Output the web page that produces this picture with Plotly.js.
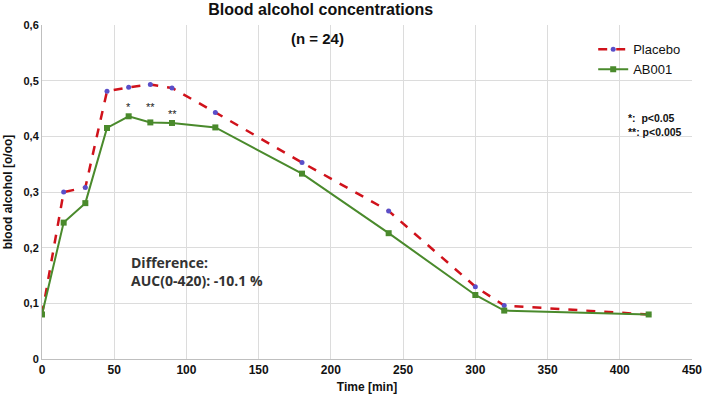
<!DOCTYPE html>
<html>
<head>
<meta charset="utf-8">
<script src="https://cdn.plot.ly/plotly-3.0.1.min.js"></script>
<style>html,body{margin:0;padding:0;background:#fff;}#chart{width:708px;height:401px;}</style>
</head>
<body>
<div id="chart"></div>
<script>
const timeMin = [0, 15, 30, 45, 60, 75, 90, 120, 180, 240, 300, 320, 420];
const placebo = [0.080, 0.300, 0.308, 0.481, 0.488, 0.493, 0.487, 0.443, 0.353, 0.266, 0.130, 0.096, 0.080];
const ab001 = [0.080, 0.245, 0.280, 0.415, 0.436, 0.425, 0.424, 0.416, 0.333, 0.226, 0.115, 0.087, 0.080];
const yTickVals = [0, 0.1, 0.2, 0.3, 0.4, 0.5, 0.6];
const yTickText = ['0', '0,1', '0,2', '0,3', '0,4', '0,5', '0,6'];
const xTickVals = [0, 50, 100, 150, 200, 250, 300, 350, 400, 450];
const sigTimes = [60, 75, 90];
const sigLabels = ['*', '**', '**'];
const sigY = [0.453, 0.453, 0.441];

const traces = [
  {x: timeMin, y: placebo, name: 'Placebo', mode: 'lines+markers',
   line: {color: '#d0121b', width: 2.5, dash: 'dash'},
   marker: {color: '#5a4fc9', size: 5, symbol: 'circle'}},
  {x: timeMin, y: ab001, name: 'AB001', mode: 'lines+markers',
   line: {color: '#4a8a2c', width: 2},
   marker: {color: '#4a8a2c', size: 6, symbol: 'square'}}
];

const annotations = sigTimes.map((t, i) => ({
  x: t, y: sigY[i], xref: 'x', yref: 'y', text: sigLabels[i], showarrow: false,
  font: {family: 'Arial, Liberation Sans', size: 11, color: '#222'}
}));
annotations.push(
  {x: (317 - 42) / 650, y: (359 - 38) / 334, xref: 'paper', yref: 'paper', text: '<b>(n = 24)</b>', showarrow: false,
   xanchor: 'center', yanchor: 'middle', font: {family: 'Arial, Liberation Sans', size: 15, color: '#111'}},
  {x: 0.898, y: 0.70, xref: 'paper', yref: 'paper', align: 'left', xanchor: 'left', yanchor: 'middle',
   text: '<b>*:  p&lt;0.05<br>**: p&lt;0.005</b>', showarrow: false,
   font: {family: 'Arial, Liberation Sans', size: 10.5, color: '#111'}},
  {x: 60, y: 0.158, xref: 'x', yref: 'y', align: 'left', xanchor: 'left', yanchor: 'middle',
   text: '<b>Difference:<br>AUC(0-420): -10.1 %</b>', showarrow: false,
   font: {family: 'Open Sans, Noto Sans', size: 14, color: '#333'}}
);

const layout = {
  width: 708, height: 401,
  margin: {l: 42, r: 16, t: 25, b: 42},
  paper_bgcolor: '#fff', plot_bgcolor: '#fff',
  title: {text: '<b>Blood alcohol concentrations</b>', x: 0.453, xanchor: 'center', y: 0.99, yanchor: 'top',
          font: {family: 'Arial, Liberation Sans', size: 16, color: '#111'}},
  xaxis: {range: [0, 450], tickvals: xTickVals, showgrid: true, gridcolor: '#dcdcdc',
          showline: true, linecolor: '#bfbfbf', zeroline: false, ticks: '',
          tickfont: {family: 'Arial, Liberation Sans', size: 12, color: '#111', weight: 'bold'},
          title: {text: '<b>Time [min]</b>', standoff: 6, font: {family: 'Arial, Liberation Sans', size: 12, color: '#111'}}},
  yaxis: {range: [0, 0.6], tickvals: yTickVals, ticktext: yTickText, showgrid: true, gridcolor: '#dcdcdc',
          showline: true, linecolor: '#bfbfbf', zeroline: false, ticks: '',
          tickfont: {family: 'Arial, Liberation Sans', size: 11, color: '#111', weight: 'bold'},
          title: {text: '<b>blood alcohol [o/oo]</b>', standoff: 8, font: {family: 'Arial, Liberation Sans', size: 12, color: '#111'}}},
  showlegend: true,
  legend: {x: 0.848, y: 0.972, xanchor: 'left', yanchor: 'top', bgcolor: 'rgba(0,0,0,0)',
           font: {family: 'Arial, Liberation Sans', size: 13, color: '#111'}, tracegroupgap: 2, itemwidth: 30},
  annotations: annotations
};

Plotly.newPlot('chart', traces, layout, {displayModeBar: false, staticPlot: true});
</script>
</body>
</html>
